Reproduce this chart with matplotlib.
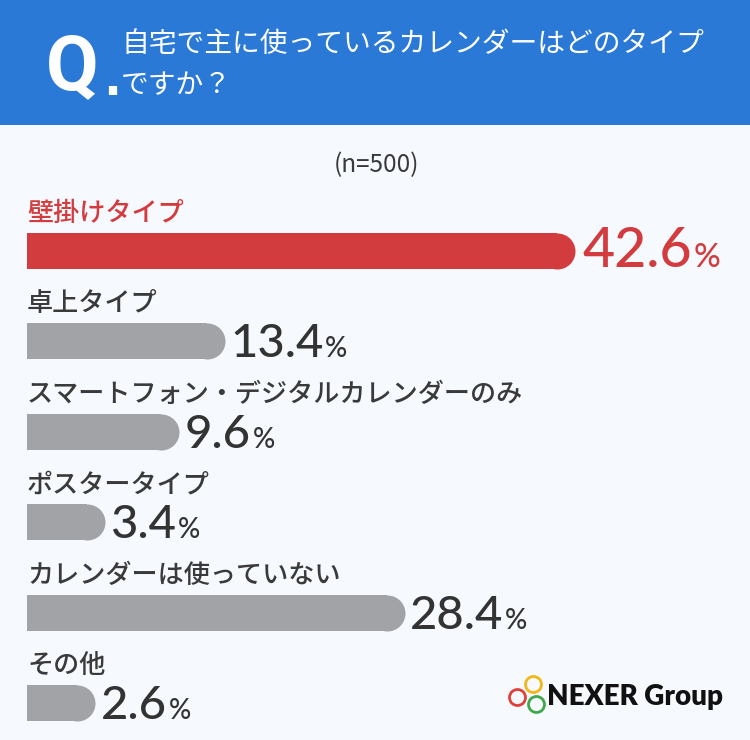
import matplotlib.pyplot as plt
from matplotlib.patches import Rectangle
from matplotlib.lines import Line2D

# データ
categories = ['壁掛けタイプ', '卓上タイプ', 'スマートフォン・デジタルカレンダーのみ',
              'ポスタータイプ', 'カレンダーは使っていない', 'その他']
values = [42.6, 13.4, 9.6, 3.4, 28.4, 2.6]
highlight = 0
title_lines = ['自宅で主に使っているカレンダーはどのタイプ', 'ですか？']
sample_note = '(n=500)'
brand = 'NEXER Group'

W, H = 750, 740
RED = '#D33C3E'
GRAY = '#A2A3A7'
BG = '#F6F9FE'
BLUE = '#2B79D6'
TXT = '#3A3A3A'
PT = 0.72  # px -> pt at 100 dpi

plt.rcParams['font.family'] = ['Noto Sans CJK JP', 'DejaVu Sans']

fig = plt.figure(figsize=(W / 100, H / 100), dpi=100, facecolor=BG)


def fx(px):
    return px / W


def fy(py):
    return 1 - py / H


# ヘッダー
fig.add_artist(Rectangle((0, fy(125)), 1, 125 / H, transform=fig.transFigure,
                         color=BLUE, lw=0))
fig.text(fx(46), fy(89), 'Q', family=['Liberation Sans Narrow', 'Roboto'],
         weight='bold', fontsize=55, color='white', ha='left', va='baseline')
fig.text(fx(103), fy(95), '.', family='DejaVu Sans', weight='bold', fontsize=34,
         color='white', ha='left', va='baseline')
fig.text(fx(121), fy(44), title_lines[0], fontsize=20, color='white', va='center')
fig.text(fx(121), fy(85), title_lines[1], fontsize=20, color='white', va='center')

fig.text(fx(376), fy(165), sample_note, fontsize=17.5, color=TXT,
         ha='center', va='center')

# 棒グラフ
PX_PER = 12.0      # 1% あたりのピクセル
PAD = 3.1          # 棒の左端のオフセット (%)
LEFT_PX = 27
ROW0 = 251
ROW_STEP = 90.4
BAR_PX = 36

ax = fig.add_axes([0, 0, 1, 1])
ax.set_xlim(-PAD - LEFT_PX / PX_PER, -PAD + (W - LEFT_PX) / PX_PER)
ax.set_ylim((H - ROW0) / ROW_STEP, -ROW0 / ROW_STEP)
ax.axis('off')
ax.patch.set_visible(False)

bh = BAR_PX / ROW_STEP
r = (BAR_PX / 2) / PX_PER

for i, (cat, v) in enumerate(zip(categories, values)):
    hl = i == highlight
    c = RED if hl else GRAY
    ax.barh(i, v - r + PAD, left=-PAD, height=bh, color=c, lw=0)
    ax.plot([v - r], [i], 'o', ms=BAR_PX * PT, color=c, mew=0)

    ax.annotate(cat, xy=(-PAD, i - bh / 2), xytext=(0, 19.5 * PT),
                textcoords='offset points', ha='left', va='center',
                fontsize=18.8, weight='medium', color=RED if hl else TXT)

    num = ax.annotate(f'{v:.1f}', xy=(v, i + bh / 2),
                      xytext=((7 if hl else 5) * PT, 2 * PT),
                      textcoords='offset points', ha='left', va='baseline',
                      family='Lato', weight='medium', fontsize=40 if hl else 34,
                      color=RED if hl else '#333333')
    ax.annotate('%', xy=(1, i + bh / 2), xycoords=(num, 'data'),
                xytext=(2 * PT, 2 * PT), textcoords='offset points',
                ha='left', va='baseline', family='Lato', weight='medium',
                fontsize=24 if hl else 20, color=RED if hl else '#333333')

# ロゴ
for (cx, cy), col in zip([(517.2, 697.2), (533.3, 684.3), (535.5, 703.8)],
                         ['#E0403A', '#F4B71A', '#3EA84A']):
    fig.add_artist(Line2D([fx(cx)], [fy(cy)], transform=fig.transFigure,
                          marker='o', ms=11.5, mfc='none', mec=col, mew=2.0,
                          ls='none'))
fig.text(fx(547), fy(705), brand, family='Lato', weight='heavy', fontsize=20,
         color='#111111', ha='left', va='baseline')

fig.savefig('out.png', dpi=100, facecolor=BG)
